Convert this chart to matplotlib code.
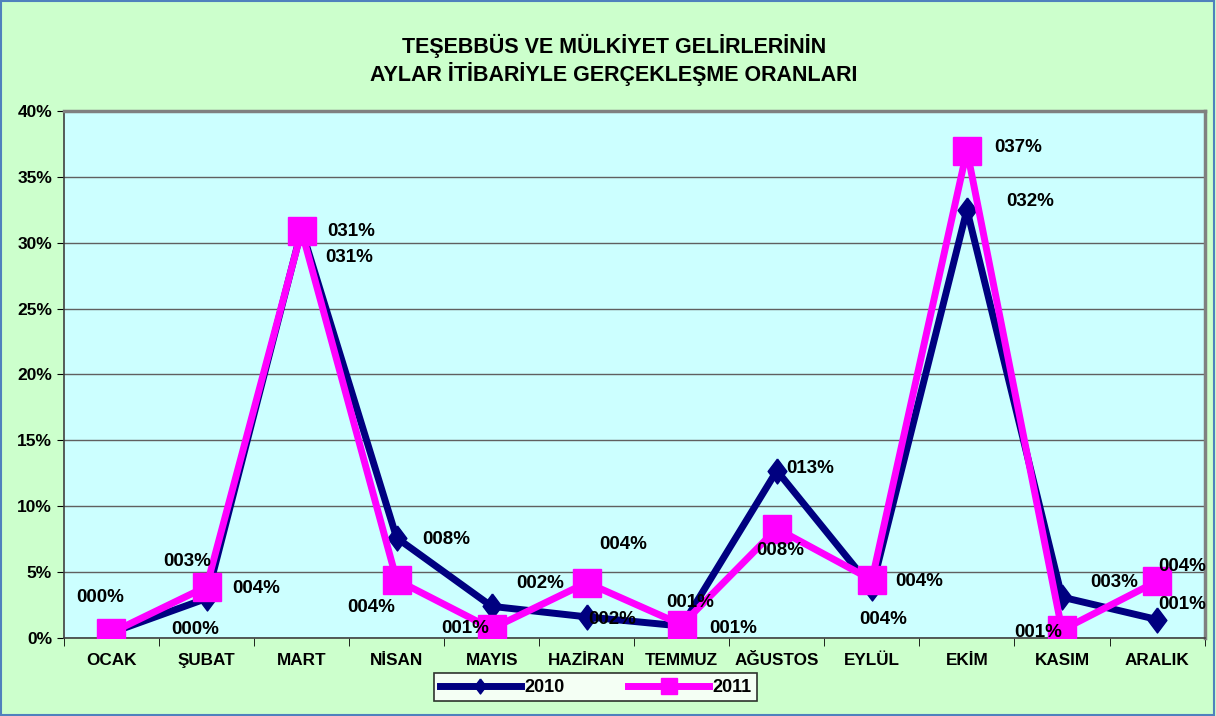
import numpy as np
import matplotlib.pyplot as plt
from matplotlib.patches import Rectangle

months = ['OCAK', 'ŞUBAT', 'MART', 'NİSAN', 'MAYIS', 'HAZİRAN', 'TEMMUZ',
          'AĞUSTOS', 'EYLÜL', 'EKİM', 'KASIM', 'ARALIK']
# percent values
vals_2010 = [0.4, 3.0, 31.0, 7.6, 2.4, 1.6, 0.9, 12.7, 3.8, 32.5, 3.1, 1.4]
vals_2011 = [0.4, 3.9, 30.9, 4.4, 0.7, 4.2, 1.0, 8.3, 4.4, 37.0, 0.6, 4.3]

# label offsets in pixels (dx, dy), dy up
off_2010 = [(-11, 35), (-19, 37), (48, -28), (50, -2), (48, 23), (25, -3),
            (51, -2), (33, 2), (11, -32), (63, 8), (52, 15), (25, 15)]
off_2011 = [(84, 3), (50, -2), (50, -1), (-25, -28), (-27, 0), (36, 38),
            (8, 22), (3, -22), (47, -2), (51, 3), (-24, -2), (25, 15)]

plt.rcParams['font.family'] = ['Liberation Sans', 'DejaVu Sans']
plt.rcParams['font.weight'] = 'bold'

fig = plt.figure(figsize=(12.16, 7.16), dpi=100, facecolor='#CCFFCC')
fig.patches.append(Rectangle((0.001, 0.001), 0.997, 0.997, transform=fig.transFigure,
                             fill=False, edgecolor='#4F81BD', lw=1.5))
ax = fig.add_axes([0.0526, 0.109, 0.938, 0.736])
ax.set_facecolor('#CCFFFF')

diamond = [(0, 1), (0.75, 0), (0, -1), (-0.75, 0), (0, 1)]
x = np.arange(len(months))
ax.plot(x, vals_2010, color='#000080', lw=5, marker=diamond, markersize=18, label='2010', zorder=3)
ax.plot(x, vals_2011, color='#FF00FF', lw=5, marker='s', markersize=20, label='2011', zorder=4)

for i in range(len(months)):
    for v, off in ((vals_2010[i], off_2010[i]), (vals_2011[i], off_2011[i])):
        ax.annotate(f'{round(v):03d}%', (x[i], v), xytext=off, textcoords='offset pixels',
                    ha='center', va='center', fontsize=13.5, fontweight='bold', zorder=5)

ax.set_xlim(-0.5, len(months) - 0.5)
ax.set_ylim(0, 40)
ax.set_yticks(np.arange(0, 41, 5))
ax.set_yticklabels([f'{t}%' for t in range(0, 41, 5)], fontsize=12.5, fontweight='bold')
ax.set_xticks(x)
ax.set_xticklabels(months, fontsize=12.3, fontweight='bold')
ax.set_xticks(np.arange(-0.5, len(months), 1), minor=True)
ax.tick_params(axis='x', which='major', length=0, pad=11)
ax.tick_params(axis='x', which='minor', length=6, direction='out')
ax.tick_params(axis='y', length=5, direction='out')
ax.yaxis.grid(True, color='#606060', lw=1)
ax.set_axisbelow(True)
for s in ['top', 'right']:
    ax.spines[s].set_color('#808080')
    ax.spines[s].set_linewidth(2.5)
for s in ['left', 'bottom']:
    ax.spines[s].set_color('#404040')
    ax.spines[s].set_linewidth(1.2)

fig.text(0.505, 0.916, 'TEŞEBBÜS VE MÜLKİYET GELİRLERİNİN\nAYLAR İTİBARİYLE GERÇEKLEŞME ORANLARI',
         ha='center', va='center', fontsize=15.5, fontweight='bold', linespacing=1.2)

leg = fig.legend(loc='center', bbox_to_anchor=(0.49, 0.04), ncol=2, fontsize=13,
                 frameon=True, fancybox=False, edgecolor='black', facecolor='white',
                 handlelength=4.5, handletextpad=0.2, columnspacing=3.5, borderpad=0.3,
                 markerscale=0.6)
leg.get_frame().set_linewidth(1.2)

fig.savefig('out.png', dpi=100, facecolor=fig.get_facecolor())
